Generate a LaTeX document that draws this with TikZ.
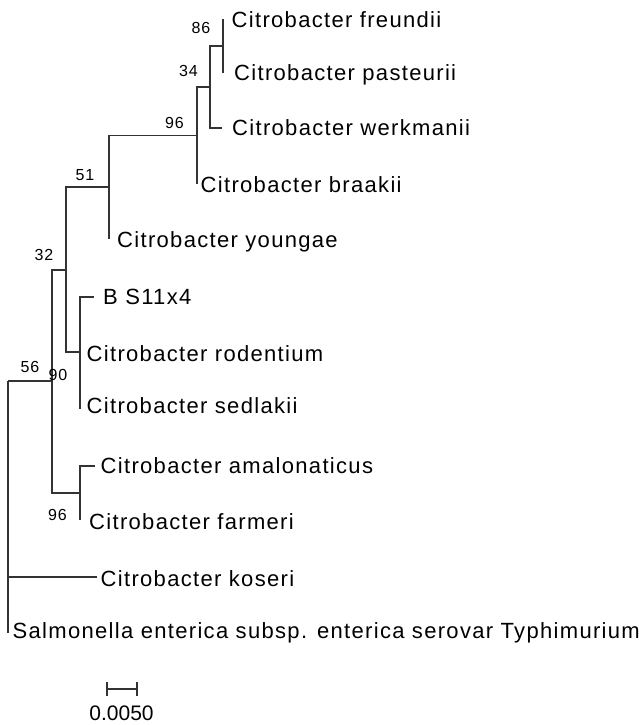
\documentclass[tikz,border=0pt]{standalone}
\usepackage{fontspec}
\newfontfamily\leaffont[LetterSpace=6]{Liberation Sans}
\newfontfamily\plainfont{Liberation Sans}
\begin{document}
\begin{tikzpicture}[x=1pt,y=-1pt,
  branch/.style={draw=black!80,line width=1.35pt},
  leaf/.style={anchor=base west,inner sep=0pt,font=\leaffont\fontsize{22}{24}\selectfont},
  boot/.style={anchor=base,inner sep=0pt,font=\leaffont\fontsize{16}{18}\selectfont},
  scalelab/.style={anchor=base,inner sep=0pt,font=\plainfont\fontsize{21}{24}\selectfont}]
\path[use as bounding box,fill=white] (0,0) rectangle (639,725);
% tips
\coordinate (fre) at (223,19);
\coordinate (pas) at (223,73);
\coordinate (wer) at (222,128);
\coordinate (bra) at (197,184);
\coordinate (you) at (109,239);
\coordinate (bs) at (94,297);
\coordinate (rod) at (80,352);
\coordinate (sed) at (80,409);
\coordinate (ama) at (95,466);
\coordinate (far) at (80,520);
\coordinate (kos) at (97,577);
\coordinate (sal) at (8,633);
% internal nodes
\coordinate (n86) at (223,46);
\coordinate (n34) at (210,87);
\coordinate (n96) at (197,135.5);
\coordinate (n51) at (109,187);
\coordinate (nrod) at (80,352);
\coordinate (n32) at (66,270);
\coordinate (nama) at (80,493);
\coordinate (n90) at (52,381);
\coordinate (root) at (8,381);
% branches
\draw[branch] (n86) |- (fre);
\draw[branch] (n86) |- (pas);
\draw[branch] (n34) |- (n86);
\draw[branch] (n34) |- (wer);
\draw[branch] (n96) |- (n34);
\draw[branch] (n96) |- (bra);
\draw[branch] (n51) |- (n96);
\draw[branch] (n51) |- (you);
\draw[branch] (n32) |- (n51);
\draw[branch] (n32) |- (nrod);
\draw[branch] (nrod) |- (bs);
\draw[branch] (nrod) |- (sed);
\draw[branch] (n90) |- (n32);
\draw[branch] (n90) |- (nama);
\draw[branch] (nama) |- (ama);
\draw[branch] (nama) |- (far);
\draw[branch] (root) |- (n90);
\draw[branch] (root) |- (kos);
\draw[branch] (root) |- (sal);
% leaf labels
\node[leaf] (lfre) at (231.5,28) {Citrobacter freundii};
\node[leaf] (lpas) at (234,80) {Citrobacter pasteurii};
\node[leaf] (lwer) at (232,135) {Citrobacter werkmanii};
\node[leaf] (lbra) at (200.5,192) {Citrobacter braakii};
\node[leaf] (lyou) at (117,247) {Citrobacter youngae};
\node[leaf] (lbs) at (103,304) {B S11x4};
\node[leaf] (lrod) at (86.5,361) {Citrobacter rodentium};
\node[leaf] (lsed) at (86.5,413) {Citrobacter sedlakii};
\node[leaf] (lama) at (100.5,473) {Citrobacter amalonaticus};
\node[leaf] (lfar) at (89,529) {Citrobacter farmeri};
\node[leaf] (lkos) at (100.5,586) {Citrobacter koseri};
\node[leaf] (lsal) at (12.5,638) {Salmonella enterica subsp. enterica serovar Typhimurium};
% bootstrap values
\node[boot] (b86) at (201,34) {86};
\node[boot] (b34) at (188.5,77) {34};
\node[boot] (b96a) at (174.5,128) {96};
\node[boot] (b51) at (85,180) {51};
\node[boot] (b32) at (44,260) {32};
\node[boot] (b56) at (30,372) {56};
\node[boot] (b90) at (58,380) {90};
\node[boot] (b96b) at (57.5,520) {96};
% scale bar
\coordinate (sbl) at (107,689);
\coordinate (sbr) at (137,689);
\draw[branch] (sbl) -- (sbr);
\draw[branch] ([yshift=-7]sbl) -- ([yshift=7]sbl);
\draw[branch] ([yshift=-7]sbr) -- ([yshift=7]sbr);
\node[scalelab] (sblab) at (121.5,720) {0.0050};
\end{tikzpicture}
\end{document}
